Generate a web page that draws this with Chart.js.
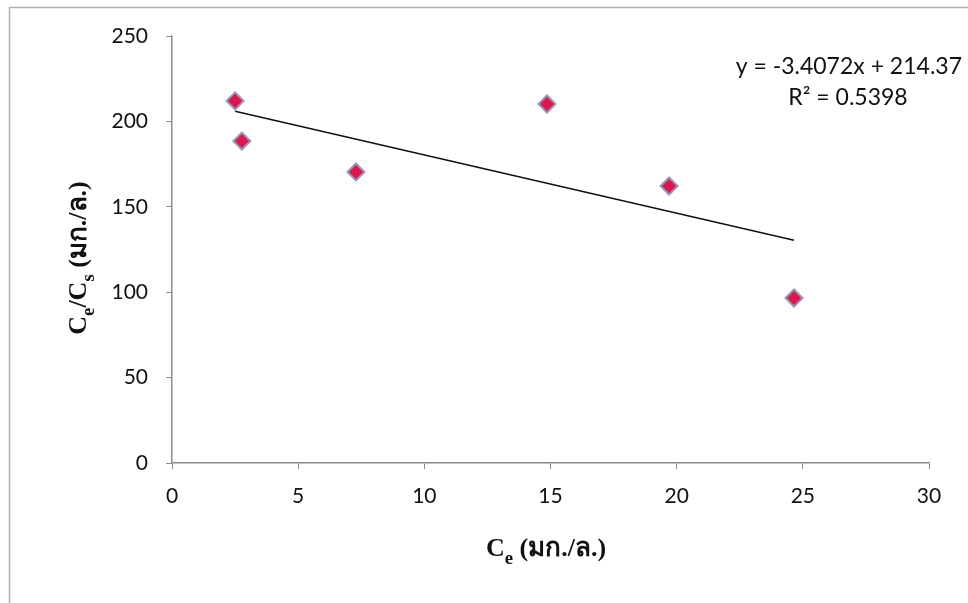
<!DOCTYPE html>
<html>
<head>
<meta charset="utf-8">
<script src="https://cdn.jsdelivr.net/npm/chart.js@4.4.1/dist/chart.umd.min.js"></script>
<style>
  html, body { margin: 0; padding: 0; background: #fff; }
  #wrap { width: 968px; height: 603px; position: relative; }
</style>
</head>
<body>
<div id="wrap"><canvas id="myChart" width="968" height="603"></canvas></div>
<script>
// datos
var ceValues = [2.5, 2.77, 7.29, 14.86, 19.7, 24.65];
var ratioValues = [212, 188.5, 170.4, 210.2, 162.2, 96.6];

// línea de tendencia (extremos)
var trendX = [2.5, 24.65];
var trendY = [205.9, 130.4];

var xTicks = [0, 5, 10, 15, 20, 25, 30];
var yTicks = [0, 50, 100, 150, 200, 250];

var equationText = 'y = -3.4072x + 214.37';
var r2Text = 'R² = 0.5398';

var tickFont = "Lato, 'Open Sans', sans-serif";
var titleFont = "'Liberation Serif', 'DejaVu Serif', serif";

// dibuja texto con subíndices: partes [texto, esSub]
function drawParts(c, parts, size) {
    var w = 0;
    parts.forEach(function (p) {
        c.font = 'bold ' + (p[1] ? size * 0.72 : size) + 'px ' + titleFont;
        w += c.measureText(p[0]).width;
    });
    var x = -w / 2;
    parts.forEach(function (p) {
        c.font = 'bold ' + (p[1] ? size * 0.72 : size) + 'px ' + titleFont;
        c.fillText(p[0], x, p[1] ? size * 0.3 : 0);
        x += c.measureText(p[0]).width;
    });
}

var extras = {
    id: 'extras',
    beforeDraw: function (chart) {
        var c = chart.ctx;
        c.save();
        c.fillStyle = '#fff';
        c.fillRect(0, 0, chart.width, chart.height);
        c.strokeStyle = '#b0b0b0';
        c.lineWidth = 1.5;
        c.beginPath();
        c.moveTo(9.5, chart.height);
        c.lineTo(9.5, 7.5);
        c.lineTo(chart.width, 7.5);
        c.stroke();
        c.restore();
    },
    afterDraw: function (chart) {
        var c = chart.ctx;
        c.save();
        c.fillStyle = '#111';
        c.textBaseline = 'alphabetic';

        // título eje x
        c.save();
        c.translate(546, 556);
        drawParts(c, [['C', false], ['e', true], [' (มก./ล.)', false]], 26);
        c.restore();

        // título eje y
        c.save();
        c.translate(86, 258);
        c.rotate(-Math.PI / 2);
        drawParts(c, [['C', false], ['e', true], ['/C', false], ['s', true], [' (มก./ล.)', false]], 26);
        c.restore();

        // ecuación de la tendencia
        c.font = '23px ' + tickFont;
        c.textAlign = 'right';
        c.fillText(equationText, 962, 74);
        c.textAlign = 'center';
        c.fillText(r2Text, 848, 105);
        c.restore();
    }
};

var ctx = document.getElementById('myChart').getContext('2d');

var myChart = new Chart(ctx, {
    type: 'scatter',
    data: {
        datasets: [{
            label: 'Ce/Cs',
            data: ceValues.map(function (x, i) { return { x: x, y: ratioValues[i] }; }),
            pointStyle: 'rectRot',
            pointRadius: 8.5,
            pointHoverRadius: 8.5,
            backgroundColor: '#e0164c',
            borderColor: '#9398b5',
            borderWidth: 2,
            order: 1
        }, {
            label: 'Tendencia',
            type: 'line',
            data: trendX.map(function (x, i) { return { x: x, y: trendY[i] }; }),
            borderColor: '#111',
            borderWidth: 1.6,
            pointRadius: 0,
            fill: false,
            order: 2
        }]
    },
    options: {
        responsive: false,
        animation: false,
        layout: { padding: { left: 100, top: 36, right: 39, bottom: 96 } },
        plugins: {
            legend: { display: false },
            tooltip: { enabled: false }
        },
        scales: {
            x: {
                type: 'linear',
                min: 0,
                max: 30,
                afterBuildTicks: function (s) { s.ticks = xTicks.map(function (v) { return { value: v }; }); },
                afterFit: function (s) { s.height = 44; },
                grid: { drawOnChartArea: false, drawTicks: true, tickLength: 6, color: '#8c8c8c' },
                border: { color: '#8c8c8c', width: 1.5 },
                ticks: { color: '#111', padding: 15, font: { family: tickFont, size: 21 } }
            },
            y: {
                min: 0,
                max: 250,
                afterBuildTicks: function (s) { s.ticks = yTicks.map(function (v) { return { value: v }; }); },
                afterFit: function (s) { s.width = 72; },
                grid: { drawOnChartArea: false, drawTicks: true, tickLength: 6, color: '#8c8c8c' },
                border: { color: '#8c8c8c', width: 1.5 },
                ticks: { color: '#111', padding: 18, font: { family: tickFont, size: 21 } }
            }
        }
    },
    plugins: [extras]
});
</script>
</body>
</html>
